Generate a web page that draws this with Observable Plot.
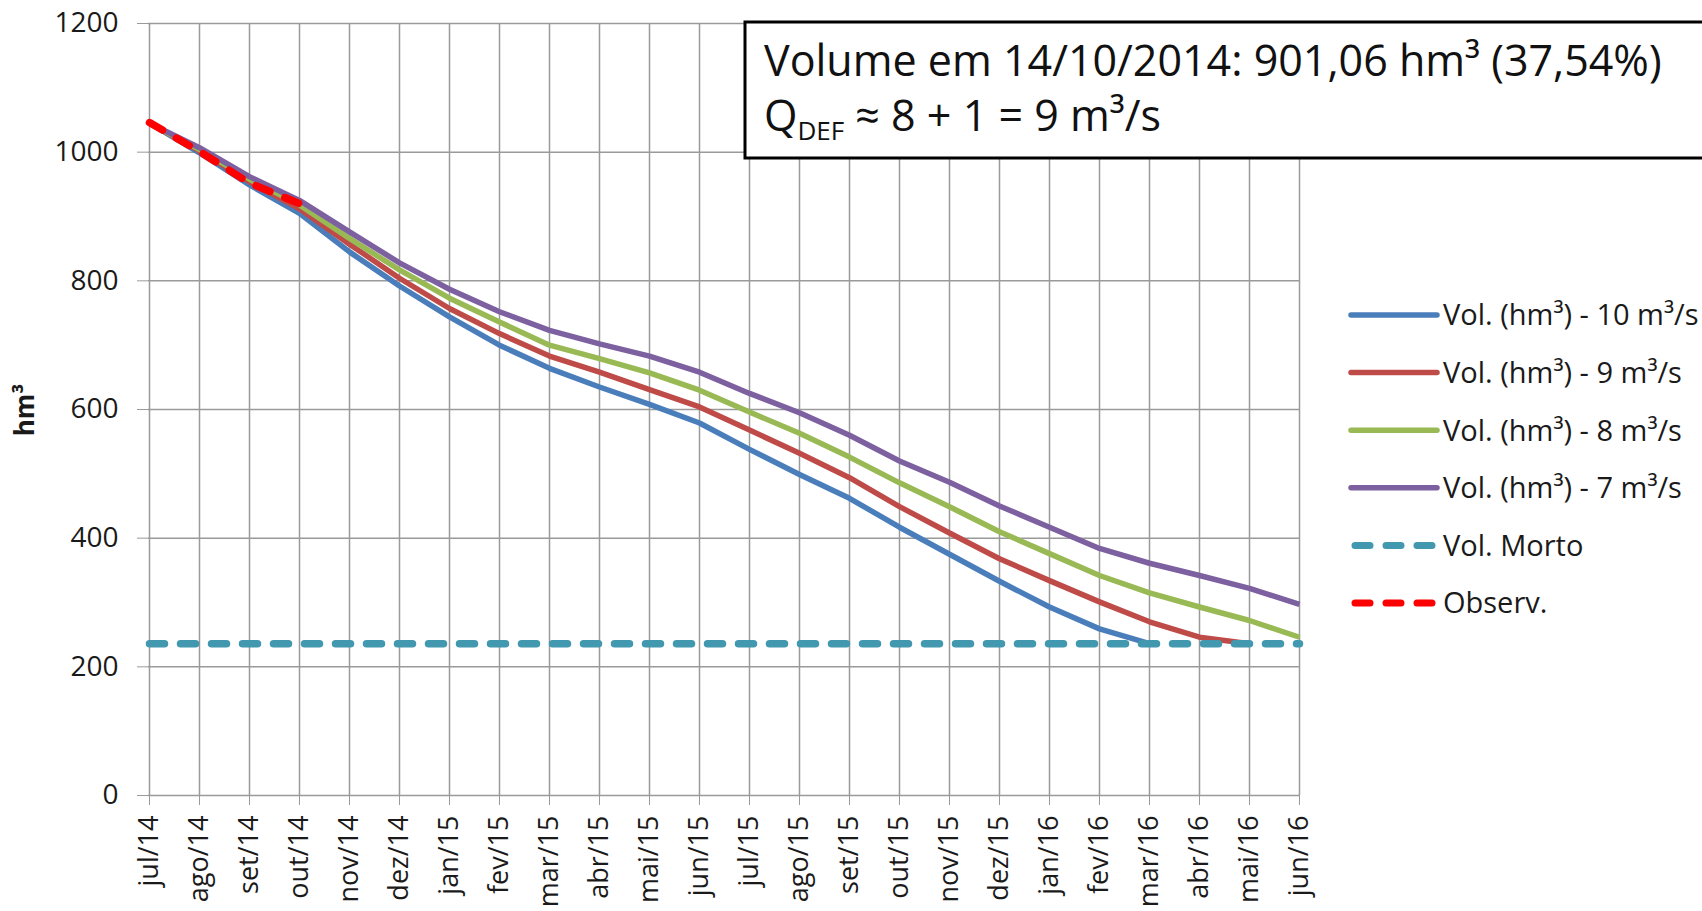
<!DOCTYPE html>
<html><head><meta charset="utf-8">
<script src="https://cdn.jsdelivr.net/npm/d3@7"></script>
<script src="https://cdn.jsdelivr.net/npm/@observablehq/plot@0.6"></script>
<style>
html,body{margin:0;padding:0;background:#fff;}
#chart{position:relative;width:1702px;height:911px;overflow:hidden;}
</style>
</head><body><div id="chart"></div>
<script>
const months = ["jul/14","ago/14","set/14","out/14","nov/14","dez/14","jan/15","fev/15","mar/15","abr/15","mai/15","jun/15",
                "jul/15","ago/15","set/15","out/15","nov/15","dez/15","jan/16","fev/16","mar/16","abr/16","mai/16","jun/16"];
const yTicks = [0, 200, 400, 600, 800, 1000, 1200];

const vol10 = [1045, 999, 949, 905, 845, 792, 744, 700, 664, 635, 608, 579, 538, 499, 462, 417, 375, 333, 293, 259, 236, null, null, null];
const vol9  = [1045, 1002, 954, 912, 857, 804, 757, 718, 683, 658, 631, 604, 568, 532, 494, 449, 408, 368, 334, 301, 270, 246, 236, null];
const vol8  = [1045, 1004, 958, 918, 866, 817, 773, 736, 700, 679, 657, 630, 596, 563, 526, 486, 449, 410, 376, 342, 315, 293, 272, 246];
const vol7  = [1045, 1007, 962, 925, 876, 828, 787, 752, 723, 702, 683, 658, 625, 595, 560, 520, 487, 450, 417, 384, 361, 342, 322, 297];
const volMorto = months.map(() => 236);
const observ = [1046, 1001, 952, 920];

const seriesNames = ["Vol. (hm³) - 10 m³/s", "Vol. (hm³) - 9 m³/s", "Vol. (hm³) - 8 m³/s", "Vol. (hm³) - 7 m³/s", "Vol. Morto", "Observ."];
const seriesColors = ["#4a7ebb", "#be4b48", "#98b954", "#7d60a0", "#4198af", "#ff0000"];
const seriesValues = [vol10, vol9, vol8, vol7, volMorto, observ];
const seriesDashed = [false, false, false, false, true, true];

function rowsFor(values, name) {
  const out = [];
  values.forEach((v, i) => { if (v != null) out.push({month: months[i], value: v, series: name}); });
  return out;
}

const lineMarks = seriesValues.map((vals, k) => Plot.line(rowsFor(vals, seriesNames[k]), {
  x: "month", y: "value",
  stroke: seriesColors[k],
  strokeWidth: seriesDashed[k] ? 7.5 : 5.5,
  strokeDasharray: seriesDashed[k] ? "15,16" : null,
  strokeLinecap: seriesDashed[k] ? "round" : "butt",
  strokeLinejoin: "round"
}));

const plot = Plot.plot({
  width: 1702, height: 911,
  marginLeft: 148, marginRight: 402, marginTop: 23, marginBottom: 116,
  style: {fontFamily: "'Open Sans', sans-serif", fontSize: "27px", color: "#1a1a1a", background: "#fff", overflow: "visible"},
  x: {type: "point", domain: months, padding: 0},
  y: {domain: [0, 1200]},
  marks: [
    Plot.gridX(months, {stroke: "#9a9a9a", strokeOpacity: 1, strokeWidth: 1.5}),
    Plot.gridY(yTicks, {stroke: "#9a9a9a", strokeOpacity: 1, strokeWidth: 1.5}),
    Plot.axisX(months, {tickRotate: -90, tickSize: 10, tickPadding: 10, fontSize: 27, stroke: "#9a9a9a", fill: "#1a1a1a", label: null}),
    Plot.axisY(yTicks, {tickSize: 11, tickPadding: 19, fontSize: 28, stroke: "#9a9a9a", fill: "#1a1a1a", label: null, tickFormat: d => String(d)}),
    ...lineMarks
  ]
});

document.getElementById("chart").appendChild(plot);
const svg = d3.select(plot);

// Y axis title
svg.append("text")
  .attr("transform", "translate(34,410) rotate(-90)")
  .attr("text-anchor", "middle")
  .attr("font-family", "'Open Sans', sans-serif")
  .attr("font-weight", "bold")
  .attr("font-size", 26)
  .attr("fill", "#1a1a1a")
  .text("hm³");

// Legend
const legend = svg.append("g").attr("font-family", "'Open Sans', sans-serif").attr("font-size", 29).attr("fill", "#1a1a1a").attr("text-anchor", "start");
seriesNames.forEach((name, k) => {
  const cy = 315 + k * 57.6;
  legend.append("line")
    .attr("x1", seriesDashed[k] ? 1355 : 1351).attr("x2", 1437)
    .attr("y1", cy).attr("y2", cy)
    .attr("stroke", seriesColors[k])
    .attr("stroke-width", seriesDashed[k] ? 7 : 5.5)
    .attr("stroke-linecap", "round")
    .attr("stroke-dasharray", seriesDashed[k] ? "15,16" : null);
  legend.append("text").attr("x", 1443).attr("y", cy).attr("dy", "0.36em").text(name);
});

// Annotation box
const box = svg.append("g");
box.append("rect").attr("x", 745).attr("y", 22).attr("width", 1100).attr("height", 136)
  .attr("fill", "#fff").attr("stroke", "#000").attr("stroke-width", 3);
const t = box.append("g").attr("font-family", "'Open Sans', sans-serif").attr("fill", "#111").attr("text-anchor", "start");
t.append("text").attr("x", 764).attr("y", 76).attr("font-size", 43).text("Volume em 14/10/2014: 901,06 hm³ (37,54%)");
const l2 = t.append("text").attr("x", 764).attr("y", 131).attr("font-size", 43);
l2.append("tspan").text("Q");
l2.append("tspan").attr("font-size", 26).attr("dy", 9).text("DEF");
l2.append("tspan").attr("dy", -9).text(" ≈ 8 + 1 = 9 m³/s");
</script>
</body></html>
